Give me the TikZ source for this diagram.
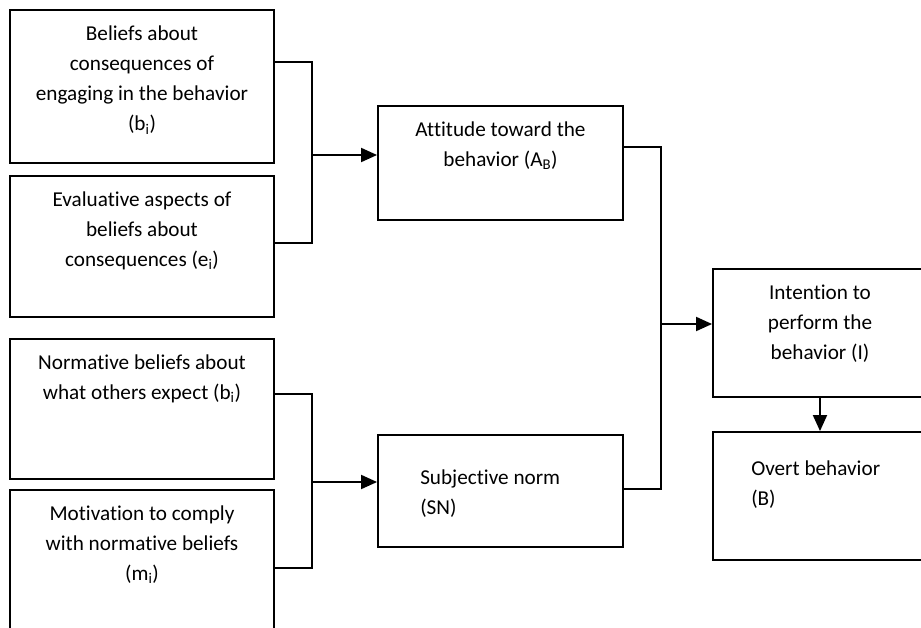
\documentclass[tikz,border=0pt]{standalone}
\usepackage{fontspec}
\setmainfont{Carlito}[Ligatures=NoCommon]
\usetikzlibrary{arrows.meta}

\begin{document}
\begin{tikzpicture}[x=1pt,y=-1pt,
  box/.style={draw,line width=1.9pt,inner sep=0pt,minimum width=264pt},
  lbl/.style={inner sep=0pt,font=\fontsize{21.2}{30.3}\selectfont},
  ctext/.style={label={[lbl,anchor=base,yshift=-31pt]north:{\parbox[t]{250pt}{\centering #1}}}},
  conn/.style={line width=1.9pt},
  arr/.style={conn,-{Triangle[length=16pt,width=14pt]}}]
  \useasboundingbox (0,0) rectangle (921,627);
  \clip (0,0) rectangle (921,627);

  % belief boxes on the left
  \draw (142,86.5) node[box,minimum height=153pt,
    ctext={Beliefs about\\consequences of\\engaging in the behavior\\(b\textsubscript{i})}] (bel) {};
  \draw (142,246.5) node[box,minimum height=141pt,
    ctext={Evaluative aspects of\\beliefs about\\consequences (e\textsubscript{i})}] (eva) {};
  \draw (142,409) node[box,minimum height=140pt,
    ctext={Normative beliefs about\\what others expect (b\textsubscript{i})}] (nor) {};
  \draw (142,575) node[box,minimum height=170pt,
    ctext={Motivation to comply\\with normative beliefs\\(m\textsubscript{i})}] (mot) {};

  % middle column
  \draw (500.5,163) node[box,minimum width=245pt,minimum height=114pt,
    ctext={Attitude toward the\\behavior (A\textsubscript{B})}] (att) {};
  \draw (500.5,491) node[box,minimum width=245pt,minimum height=112pt,
    label={[lbl,anchor=base west,xshift=43pt,yshift=-50pt]north west:{\parbox[t]{200pt}{Subjective norm\\(SN)}}}] (sn) {};

  % right column
  \draw (820,333) node[box,minimum width=214pt,minimum height=128pt,
    ctext={Intention to\\perform the\\behavior (I)}] (int) {};
  \draw (820,496) node[box,minimum width=214pt,minimum height=128pt,
    label={[lbl,anchor=base west,xshift=39pt,yshift=-44pt]north west:{\parbox[t]{200pt}{Overt behavior\\(B)}}}] (ovt) {};

  \coordinate (ja) at (312,155);
  \coordinate (jb) at (312,482);
  \coordinate (jc) at (661,324);

  \draw[conn] ([yshift=24.5pt]bel.east) -| (ja) |- ([yshift=3.5pt]eva.east);
  \draw[arr] (ja) -- (ja -| att.west);
  \draw[conn] ([yshift=15pt]nor.east) -| (jb) |- ([yshift=7pt]mot.east);
  \draw[arr] (jb) -- (jb -| sn.west);
  \draw[conn] ([yshift=16pt]att.east) -| (jc) |- ([yshift=2pt]sn.east);
  \draw[arr] (jc) -- (jc -| int.west);
  \draw[arr] (int.south) -- (ovt.north);
\end{tikzpicture}
\end{document}
